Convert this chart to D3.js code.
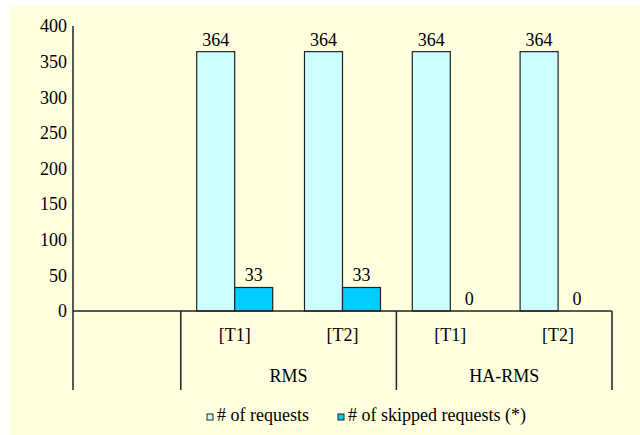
<!DOCTYPE html>
<html>
<head>
<meta charset="utf-8">
<script src="https://cdn.jsdelivr.net/npm/d3@7"></script>
<style>
body { margin: 0; background: #fff; }
</style>
</head>
<body>
<svg width="640" height="435"></svg>
<script>
// slots along x: first one is empty, then two per group
var slots = ["", "RMS|T1", "RMS|T2", "HA-RMS|T1", "HA-RMS|T2"]
var slotLabels = ["", "[T1]", "[T2]", "[T1]", "[T2]"]
var groups = ["RMS", "HA-RMS"]
var groupSlots = [[1, 2], [3, 4]]
var requests = [null, 364, 364, 364, 364]
var skipped = [null, 33, 33, 0, 0]
var seriesNames = ["# of requests", "# of skipped requests (*)"]
var seriesColors = ["#CCFFFF", "#00CCFF"]
var yTicks = [0, 50, 100, 150, 200, 250, 300, 350, 400]

var FONT = "Liberation Serif"

var svg = d3.select("svg")
var margin = { left: 73, top: 26, right: 28, bottom: 124 }
var width = 640 - margin.left - margin.right,
    height = 435 - margin.top - margin.bottom

svg.append("rect")
    .attr("x", 9).attr("y", 6)
    .attr("width", 631).attr("height", 429)
    .attr("fill", "#FFFFE0")

var g = svg.append("g").attr("transform", "translate(" + margin.left + "," + margin.top + ")")

var x = d3.scaleBand().domain(slots).range([0, width])
var y = d3.scaleLinear().domain([0, 400]).range([height, 0])
var xs = d3.scaleBand().domain([0, 1]).range([0, 76])

function label(sel) {
    return sel.attr("font-family", FONT).attr("font-size", 18).attr("fill", "#000")
}

// y axis
g.append("g")
    .call(d3.axisLeft(y).tickValues(yTicks).tickSize(0).tickPadding(6))
    .attr("font-family", FONT).attr("font-size", 18)
    .call(function (a) { a.select(".domain").remove() })
    .selectAll("text")
    .attr("fill", "#000")

g.append("line")
    .attr("x1", 0).attr("x2", 0)
    .attr("y1", 0).attr("y2", height + 79)
    .attr("stroke", "#222").attr("stroke-width", 1.5)

// bars
var series = [requests, skipped]
series.forEach(function (vals, si) {
    slots.forEach(function (s, i) {
        if (vals[i] == null) return
        var bx = x(s) + x.bandwidth() / 2 - 38 + xs(si)
        if (vals[i] > 0) {
            g.append("rect")
                .attr("x", bx).attr("y", y(vals[i]))
                .attr("width", xs.bandwidth()).attr("height", height - y(vals[i]))
                .attr("fill", seriesColors[si])
                .attr("stroke", "#222").attr("stroke-width", 1.2)
        }
        g.append("text")
            .attr("x", bx + xs.bandwidth() / 2)
            .attr("y", y(vals[i]) - 6)
            .attr("text-anchor", "middle")
            .call(label)
            .text(vals[i])
    })
})

// baseline and separators
g.append("line")
    .attr("x1", 0).attr("x2", width)
    .attr("y1", height).attr("y2", height)
    .attr("stroke", "#222").attr("stroke-width", 1.5)

var seps = [x(slots[1]), x(slots[3]), width]
seps.forEach(function (sx) {
    g.append("line")
        .attr("x1", sx).attr("x2", sx)
        .attr("y1", height).attr("y2", height + 79)
        .attr("stroke", "#222").attr("stroke-width", 1.5)
})

// slot labels
slots.forEach(function (s, i) {
    if (!slotLabels[i]) return
    g.append("text")
        .attr("x", x(s) + x.bandwidth() / 2)
        .attr("y", height + 30)
        .attr("text-anchor", "middle")
        .call(label)
        .text(slotLabels[i])
})

// group labels
groups.forEach(function (gr, i) {
    var a = x(slots[groupSlots[i][0]]), b = x(slots[groupSlots[i][1]]) + x.bandwidth()
    g.append("text")
        .attr("x", (a + b) / 2)
        .attr("y", height + 71)
        .attr("text-anchor", "middle")
        .call(label)
        .text(gr)
})

// legend
var legendX = [207, 338]
seriesNames.forEach(function (n, i) {
    var lg = svg.append("g").attr("transform", "translate(" + legendX[i] + ",414)")
    lg.append("rect")
        .attr("width", 6).attr("height", 6)
        .attr("fill", seriesColors[i])
        .attr("stroke", "#222").attr("stroke-width", 1)
    lg.append("text")
        .attr("x", 10).attr("y", 7)
        .call(label)
        .text(n)
})
</script>
</body>
</html>
